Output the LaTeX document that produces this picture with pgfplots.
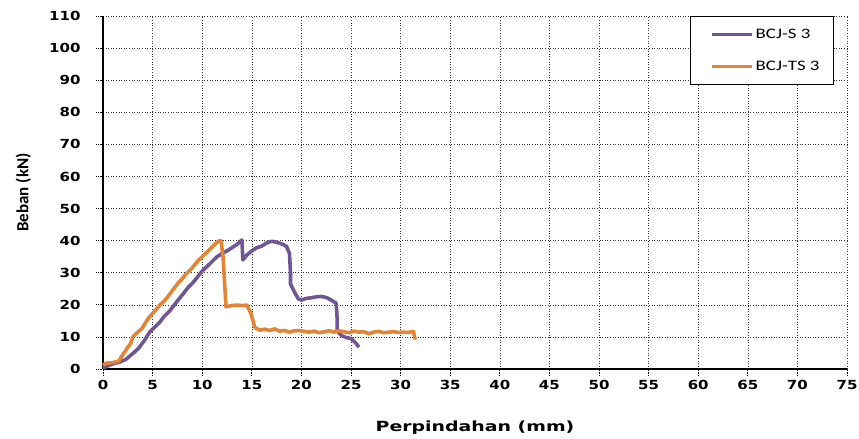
\documentclass[border=0pt]{standalone}
\usepackage{pgfplots}
\pgfplotsset{compat=1.18}
\usepackage{fontspec}
\setmainfont{DejaVu Sans}
\newfontfamily\tickfont{DejaVu Sans}[FakeStretch=1.2]
\newfontfamily\labfont{DejaVu Sans}[FakeStretch=1.35]
\newfontfamily\calfont{Carlito}
\newfontfamily\calwide{Carlito}[FakeStretch=1.3]

\definecolor{bcjs}{RGB}{112,86,150}
\definecolor{bcjts}{RGB}{228,132,55}

\begin{document}
\begin{tikzpicture}
\begin{axis}[
  scale only axis,
  width=744pt, height=353pt,
  xmin=0, xmax=75, ymin=0, ymax=110,
  xtick={0,5,...,75}, ytick={0,10,...,110},
  axis x line=bottom, axis y line=left,
  axis line style={-, line width=1.8pt, black},
  tick align=outside,
  major tick length=7pt,
  tick style={black, line width=0.8pt, densely dotted},
  grid=major,
  major grid style={black!80, line width=0.6pt, dotted},
  /pgf/number format/assume math mode=true,
  ticklabel style={font=\tickfont\bfseries\fontsize{12.5}{14}\selectfont},
  yticklabel style={xshift=-12pt},
  xticklabel style={yshift=-1pt},
  xlabel={Perpindahan (mm)},
  ylabel={Beban (kN)},
  xlabel style={font=\labfont\bfseries\fontsize{14}{16}\selectfont,
    at={(axis description cs:0.5,-0.167)}, anchor=center},
  ylabel style={font=\calfont\bfseries\fontsize{17}{19}\selectfont,
    at={(axis description cs:-0.107,0.5)}, anchor=center, rotate=0},
  legend style={at={(rel axis cs:0.9825,1)}, anchor=north east,
    draw=black, line width=1pt, fill=white,
    font=\calwide\fontsize{14.5}{16}\selectfont,
    inner xsep=12pt, inner ysep=10.5pt, row sep=17pt,
    cells={anchor=west}},
  legend image code/.code={\path (0pt,0pt); \draw[#1] (8pt,0pt) -- (48pt,0pt);},
  clip=false,
]
\addplot[bcjs, line width=3.6pt, line join=round] coordinates {
(0,0.3) (0.5,1.0) (1.0,1.6) (1.7,2.2) (2.3,3.0) (3.0,4.8) (3.6,6.5)
(4.2,9.0) (4.7,11.5) (5.2,13.0) (5.7,14.5) (6.2,16.5) (6.7,18.0)
(7.2,20.0) (7.7,22.0) (8.1,23.5) (8.6,25.5) (9.1,27.0) (9.6,29.0)
(10.0,30.5) (10.5,32.0) (11.0,33.5) (11.5,35.0) (12.0,36.0) (12.5,36.8)
(13.0,37.8) (13.5,38.8) (14.0,40.2) (14.1,34.0) (14.5,35.5) (15.0,36.8)
(15.5,37.8) (16.0,38.3) (16.5,39.3) (17.0,39.8) (17.5,39.5) (18.0,39.0)
(18.5,38.2) (18.8,36.0) (18.9,30.0) (18.9,26.5) (19.3,24.0) (19.7,21.8)
(20.0,21.5) (20.5,22.0) (21.0,22.2) (21.5,22.5) (22.0,22.6) (22.5,22.3)
(23.0,21.5) (23.5,20.5) (23.6,16.0) (23.6,12.0) (24.0,10.5) (24.5,9.8)
(25.0,9.5) (25.5,8.0) (25.8,6.8)
};
\addlegendentry{BCJ-S 3}
\addplot[bcjts, line width=3.6pt, line join=round] coordinates {
(0,1.2) (0.3,1.8) (1.0,2.0) (1.6,2.5) (2.0,4.5) (2.4,6.3) (2.8,8.0)
(3.0,10.0) (3.5,11.5) (3.9,12.5) (4.3,14.5) (4.7,16.3) (5.2,18.0)
(5.7,19.8) (6.2,21.3) (6.6,22.8) (7.0,24.5) (7.5,26.5) (8.0,28.2)
(8.5,30.0) (9.0,31.5) (9.5,33.5) (10.0,35.0) (10.5,36.5) (11.0,38.0)
(11.6,39.8) (11.9,40.0) (12.1,35.0) (12.4,19.4) (13.0,19.8) (13.5,19.9)
(14.0,19.8) (14.5,19.9) (14.9,17.5) (15.3,13.0) (15.8,12.1) (16.3,12.4)
(16.8,12.0) (17.3,12.5) (17.8,11.8) (18.3,12.0) (18.8,11.5) (19.3,11.9)
(19.8,12.0) (20.3,11.7) (20.8,11.5) (21.3,11.8) (21.8,11.3) (22.3,11.6)
(22.8,11.9) (23.3,11.5) (23.8,11.9) (24.3,11.6) (24.8,11.3) (25.3,11.8)
(25.8,11.5) (26.3,11.6) (26.8,11.0) (27.3,11.5) (27.8,11.7) (28.3,11.3)
(28.8,11.5) (29.3,11.6) (29.8,11.4) (30.3,11.5) (30.8,11.4) (31.3,11.7)
(31.4,10.0) (31.5,9.2)
};
\addlegendentry{BCJ-TS 3}
\end{axis}
\pgfresetboundingbox
\path[use as bounding box]
  ([xshift=-103pt,yshift=-69pt]current axis.south west)
  rectangle ([xshift=12pt,yshift=16pt]current axis.north east);
\end{tikzpicture}
\end{document}
